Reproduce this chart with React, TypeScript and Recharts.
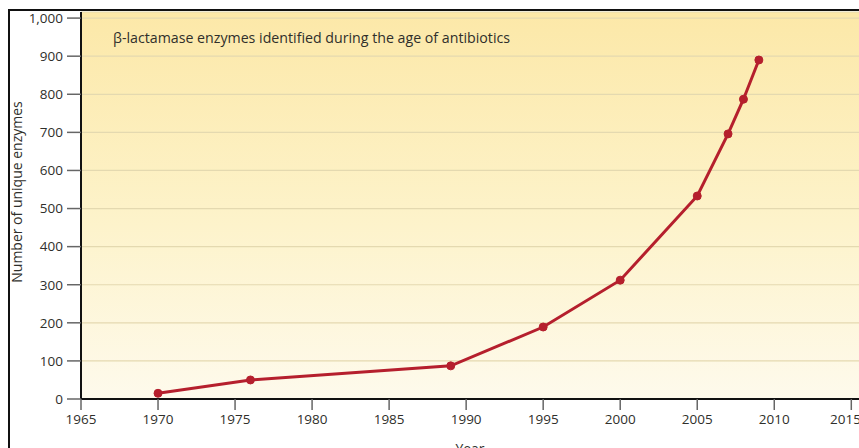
import { LineChart, Line, CartesianGrid, XAxis, YAxis, Customized } from "recharts";

const years = [1970, 1976, 1989, 1995, 2000, 2005, 2007, 2008, 2009];
const enzymes = [15, 50, 87, 189, 312, 533, 696, 787, 890];
const yearTicks = [1965, 1970, 1975, 1980, 1985, 1990, 1995, 2000, 2005, 2010, 2015];
const countTicks = [0, 100, 200, 300, 400, 500, 600, 700, 800, 900, 1000];

const data = years.map((year, i) => ({ year, count: enzymes[i] }));

const FONT = "'Open Sans', 'Noto Sans', sans-serif";
const TEXT = "#2f2f2b";

const yLabel = () => (
  <text
    x={16}
    y={192}
    transform="rotate(-90 16 192)"
    textAnchor="middle"
    dominantBaseline="central"
    fontSize={14}
    fontFamily={FONT}
    fill={TEXT}
  >
    Number of unique enzymes
  </text>
);

export default function App() {
  return (
    <div style={{ position: "fixed", left: 0, top: 0, width: 859, height: 448, background: "#fff", overflow: "hidden" }}>
      <div
        style={{
          position: "absolute",
          left: 8,
          top: 9,
          width: 900,
          height: 500,
          borderLeft: "2px solid #111",
          borderTop: "2px solid #111",
        }}
      />
      <div style={{ position: "absolute", left: 0, top: 0 }}>
        <LineChart width={859} height={448} data={data} margin={{ top: 12, right: 0, bottom: 0, left: 0 }}>
          <defs>
            <linearGradient id="plotBg" x1="0" x2="0" y1="0" y2="1">
              <stop offset="0%" stopColor="#fce8a8" />
              <stop offset="55%" stopColor="#fdf3cb" />
              <stop offset="100%" stopColor="#fefaec" />
            </linearGradient>
          </defs>
          <CartesianGrid fill="url(#plotBg)" stroke="#e4d9b0" strokeWidth={1.2} vertical={false} />
          <XAxis
            dataKey="year"
            type="number"
            domain={[1965, 2015.5]}
            ticks={yearTicks}
            height={49}
            axisLine={{ stroke: "#111", strokeWidth: 2 }}
            tickLine={{ stroke: "#666", strokeWidth: 1.5 }}
            tickSize={11}
            tickMargin={4}
            tick={{ fontSize: 13.5, fontFamily: FONT, fill: TEXT }}
            label={{ value: "Year", position: "insideBottom", offset: -6, fontSize: 14, fontFamily: FONT, fill: TEXT }}
          />
          <YAxis
            type="number"
            domain={[0, 1016]}
            ticks={countTicks}
            width={81}
            axisLine={{ stroke: "#111", strokeWidth: 2 }}
            tickLine={{ stroke: "#666", strokeWidth: 1.5 }}
            tickSize={14}
            tickMargin={4}
            tickFormatter={(v: number) => v.toLocaleString("en-US")}
            tick={{ fontSize: 13.5, fontFamily: FONT, fill: TEXT }}
          />
          <Customized component={yLabel} />
          <text x={113} y={37} fontSize={14.2} fontFamily={FONT} fill={TEXT} dominantBaseline="central">
            β-lactamase enzymes identified during the age of antibiotics
          </text>
          <Line
            dataKey="count"
            stroke="#b51f2d"
            strokeWidth={3}
            dot={{ r: 4, fill: "#b51f2d", stroke: "#b51f2d", strokeWidth: 1 }}
            isAnimationActive={false}
          />
        </LineChart>
      </div>
    </div>
  );
}
